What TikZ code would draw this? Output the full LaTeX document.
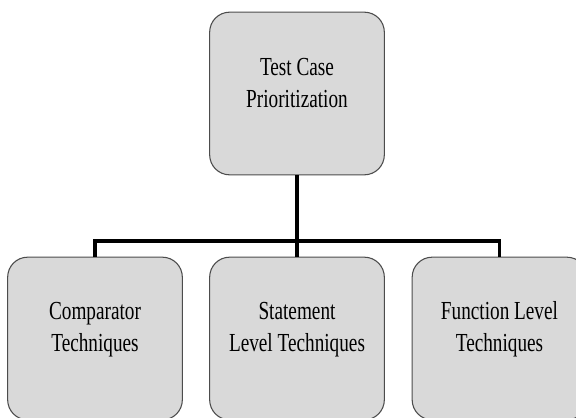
\documentclass[tikz,border=0pt]{standalone}
\usepackage{fontspec}
\setmainfont{Liberation Serif}[FakeStretch=0.74]
\begin{document}
\begin{tikzpicture}[x=0.75pt, y=-0.75pt,
        box/.style={draw=black!70, line width=0.8pt, fill=black!15, rounded corners=15pt,
            minimum width=131pt, minimum height=122pt},
        txt/.style={align=center, font=\fontsize{19.5}{24}\selectfont},
        conn/.style={line width=2.3pt}]
        \useasboundingbox (0,0) rectangle (576,418);

        \node[box] (tcp) at (297,93.5) {};
        \node[box] (cmp) at (95,338.5) {};
        \node[box] (stm) at (297,338.5) {};
        \node[box] (fun) at (499.5,338.5) {};

        \node[txt] (tcp-t) at ([yshift=7.5pt]tcp.center) {Test Case\\Prioritization};
        \node[txt] (cmp-t) at ([yshift=7pt]cmp.center) {Comparator\\Techniques};
        \node[txt] (stm-t) at ([yshift=7pt]stm.center) {Statement\\Level Techniques};
        \node[txt] (fun-t) at ([yshift=7pt]fun.center) {Function Level\\Techniques};

        \coordinate (bus) at (297,241);
        \draw[conn] (tcp.south) -- (stm.north);
        \draw[conn] (cmp.north) |- (bus) -| (fun.north);
    \end{tikzpicture}
\end{document}
